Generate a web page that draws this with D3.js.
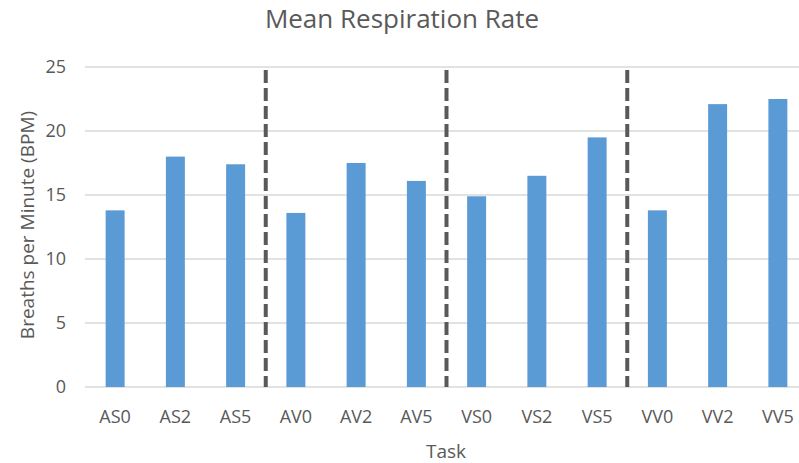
<html>
<head>
  <meta charset="utf-8">
  <script src="https://d3js.org/d3.v7.min.js"></script>
  <style>
    body { margin: 0; background: white; }
    text { font-family: "Open Sans", sans-serif; fill: #595959; }
  </style>
</head>
<body>
  <svg id="chart" width="799" height="463"></svg>
  <script>
    // data
    let tasks = ["AS0", "AS2", "AS5", "AV0", "AV2", "AV5", "VS0", "VS2", "VS5", "VV0", "VV2", "VV5"];
    let bpm = [13.8, 18.0, 17.4, 13.6, 17.5, 16.1, 14.9, 16.5, 19.5, 13.8, 22.1, 22.5];
    let yTicks = [0, 5, 10, 15, 20, 25];
    let groupStarts = ["AV0", "VS0", "VV0"]; // dashed dividers sit left of these

    let svg = d3.select("#chart");

    let x = d3.scaleBand()
      .domain(tasks)
      .range([85, 808])
      .paddingInner(0.685)
      .paddingOuter(0.3425);

    let y = d3.scaleLinear()
      .domain([0, 25])
      .range([387, 67]);

    // gridlines
    svg.append("g")
      .selectAll("line")
      .data(yTicks)
      .join("line")
      .attr("x1", 85)
      .attr("x2", 799)
      .attr("y1", d => y(d))
      .attr("y2", d => y(d))
      .style("stroke", "#d9d9d9")
      .style("stroke-width", 1.3);

    // y tick labels
    svg.append("g")
      .selectAll("text")
      .data(yTicks)
      .join("text")
      .attr("x", 66)
      .attr("y", d => y(d))
      .attr("dy", "0.35em")
      .attr("text-anchor", "end")
      .style("font-size", "18px")
      .text(d => d);

    // bars
    svg.append("g")
      .selectAll("rect")
      .data(tasks)
      .join("rect")
      .attr("x", d => x(d))
      .attr("width", x.bandwidth())
      .attr("y", (d, i) => y(bpm[i]))
      .attr("height", (d, i) => y(0) - y(bpm[i]))
      .style("fill", "#5b9bd5");

    // dashed group dividers
    svg.append("g")
      .selectAll("line")
      .data(groupStarts)
      .join("line")
      .attr("x1", d => x(d) + x.bandwidth() / 2 - x.step() / 2)
      .attr("x2", d => x(d) + x.bandwidth() / 2 - x.step() / 2)
      .attr("y1", 70)
      .attr("y2", 387)
      .style("stroke", "#595959")
      .style("stroke-width", 4)
      .style("stroke-dasharray", "13,5");

    // x tick labels
    svg.append("g")
      .selectAll("text")
      .data(tasks)
      .join("text")
      .attr("x", d => x(d) + x.bandwidth() / 2)
      .attr("y", 417)
      .attr("dy", "0.35em")
      .attr("text-anchor", "middle")
      .style("font-size", "18px")
      .text(d => d);

    // titles
    svg.append("text")
      .attr("x", 402)
      .attr("y", 19)
      .attr("dy", "0.35em")
      .attr("text-anchor", "middle")
      .style("font-size", "26px")
      .text("Mean Respiration Rate");

    svg.append("text")
      .attr("x", 446)
      .attr("y", 451)
      .attr("dy", "0.35em")
      .attr("text-anchor", "middle")
      .style("font-size", "19px")
      .text("Task");

    svg.append("text")
      .attr("transform", "translate(27,225) rotate(-90)")
      .attr("dy", "0.35em")
      .attr("text-anchor", "middle")
      .style("font-size", "19px")
      .text("Breaths per Minute (BPM)");
  </script>
</body>
</html>
